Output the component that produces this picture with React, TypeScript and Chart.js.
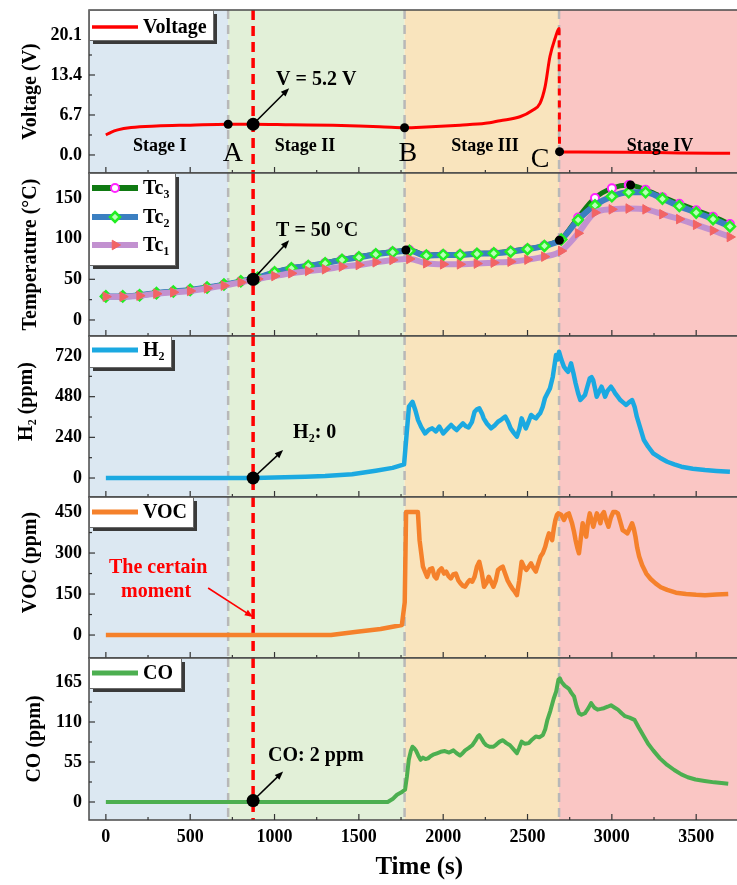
import React, { useEffect, useRef } from "react";
import { Chart, registerables } from "chart.js";

Chart.register(...registerables);
Chart.defaults.color = "#000";

const FONT = "'Liberation Serif', 'Times New Roman', Times, serif";
Chart.defaults.font.family = FONT;

// ---------------- shared time axis ----------------
const xTicks = [0, 500, 1000, 1500, 2000, 2500, 3000, 3500];
const X_MIN = -100;
const X_MAX = 3742;
const stageBounds = [725, 1771, 2687]; // A, B, C
const certainMoment = 873;
const stageNames = ["Stage I", "Stage II", "Stage III", "Stage IV"];
const stageLabelTimes = [320, 1180, 2248, 3286];
const stageLabelVoltage = 1.5;
const pointLetters = ["A", "B", "C"];
const letterTimes = [753, 1791, 2574];
const letterVoltages = [0.3, 0.3, -0.8];

// ---------------- voltage ----------------
const voltageTime = [0, 30, 70, 150, 300, 500, 725, 873, 1100, 1346, 1500, 1650, 1771, 1900, 2100, 2250, 2337, 2455, 2530, 2574, 2604, 2633, 2663, 2687, 2690, 2800, 3090, 3400, 3701];
const voltageValues = [3.35, 3.8, 4.2, 4.6, 4.86, 5.0, 5.15, 5.15, 5.05, 4.97, 4.85, 4.7, 4.57, 4.7, 5.0, 5.3, 5.75, 6.4, 7.5, 8.65, 11.4, 16.5, 19.5, 21.2, 0.55, 0.5, 0.45, 0.35, 0.28];
const voltageTicks = [0, 6.7, 13.4, 20.1];
const voltageMarks = [[725, 5.15], [1771, 4.57], [2690, 0.55]];
const voltageAtMoment = 5.15;

// ---------------- temperature ----------------
const tempTime = [0, 100, 200, 300, 400, 500, 600, 700, 800, 900, 1000, 1100, 1200, 1300, 1400, 1500, 1600, 1700, 1800, 1900, 2000, 2100, 2200, 2300, 2400, 2500, 2600, 2700, 2800, 2900, 3000, 3100, 3200, 3300, 3400, 3500, 3600, 3700];
const tc1Values = [28.7, 28.7, 29.9, 32.3, 34.0, 35.7, 38.9, 42.2, 46.3, 50.5, 54.0, 57.4, 60.3, 62.3, 65.6, 67.6, 70.9, 73.8, 75.0, 69.7, 68.4, 68.4, 69.3, 70.5, 71.7, 74.2, 77.9, 84.9, 106.6, 132.0, 136.0, 137.0, 136.0, 130.0, 124.0, 117.0, 110.0, 102.0];
const tc2Values = [29, 29, 30.5, 33, 35, 37, 40, 43.5, 47.5, 52, 58.6, 63.5, 66.4, 69.7, 74, 77, 80.7, 83.2, 85, 79.2, 80, 80, 81.3, 82, 84, 87, 91, 99, 123, 141, 152, 157, 157, 149, 140, 132, 124, 115];
const tc3Values = [29, 29, 30.5, 33, 35, 37, 40, 43.5, 47.5, 52, 58.8, 63.8, 66.8, 70.2, 74.5, 77.5, 81.2, 83.8, 86, 80, 80.5, 80.5, 81.8, 82.5, 84.5, 87.5, 91.5, 99.5, 126, 150, 162, 166, 160, 151, 143, 135, 127, 118];
const tempTicks = [0, 50, 100, 150];
const tempMarks = [[1779, 86], [2689, 98], [3111, 166]];
const tempAtMoment = 50;

// ---------------- H2 ----------------
const h2Series = [
  [0, 0], [880, 0], [1000, 3], [1182, 8], [1300, 12], [1460, 22], [1600, 43], [1700, 60], [1768, 80],
  [1797, 421], [1818, 450], [1835, 400], [1851, 342], [1870, 300], [1893, 263], [1915, 285], [1935, 293],
  [1957, 275], [1977, 303], [2000, 263], [2025, 290], [2047, 313], [2065, 295], [2080, 283], [2100, 305],
  [2117, 322], [2135, 305], [2150, 298], [2170, 330], [2186, 391], [2200, 405], [2214, 411], [2230, 380],
  [2240, 352], [2260, 320], [2284, 293], [2305, 310], [2325, 332], [2345, 345], [2368, 362], [2385, 330],
  [2400, 293], [2420, 265], [2437, 244], [2452, 290], [2465, 352], [2478, 320], [2490, 293], [2505, 330],
  [2521, 372], [2535, 360], [2550, 352], [2563, 370], [2575, 382], [2590, 420], [2603, 470], [2618, 500],
  [2633, 529], [2650, 598], [2669, 726], [2680, 700], [2687, 745], [2700, 700], [2716, 657], [2728, 640],
  [2740, 627], [2750, 650], [2758, 677], [2772, 620], [2785, 559], [2800, 500], [2813, 460], [2827, 475],
  [2841, 490], [2855, 540], [2869, 588], [2880, 595], [2889, 578], [2900, 530], [2910, 480], [2925, 510],
  [2939, 539], [2950, 510], [2960, 480], [2975, 515], [2995, 539], [3008, 520], [3020, 500], [3035, 480],
  [3050, 460], [3068, 445], [3085, 431], [3100, 445], [3120, 460], [3135, 420], [3148, 362], [3170, 290],
  [3190, 224], [3215, 185], [3245, 146], [3285, 120], [3328, 96], [3370, 80], [3412, 67], [3480, 55],
  [3552, 47], [3620, 42], [3700, 37],
];
const h2Ticks = [0, 240, 480, 720];
const h2AtMoment = 0;

// ---------------- VOC ----------------
const vocSeries = [
  [0, 0], [1335, 0], [1489, 12], [1629, 22], [1755, 37], [1772, 120], [1780, 450], [1850, 450], [1860, 347],
  [1880, 250], [1905, 213], [1920, 240], [1935, 244], [1948, 215], [1960, 207], [1975, 235], [1990, 244],
  [2005, 225], [2018, 232], [2032, 215], [2045, 207], [2060, 222], [2075, 225], [2090, 200], [2103, 189],
  [2117, 180], [2130, 177], [2145, 192], [2158, 201], [2172, 195], [2186, 213], [2200, 250], [2214, 268],
  [2228, 230], [2242, 177], [2256, 190], [2270, 213], [2284, 195], [2298, 177], [2312, 200], [2325, 238],
  [2339, 245], [2353, 250], [2367, 225], [2381, 201], [2395, 185], [2409, 171], [2423, 160], [2437, 146],
  [2451, 200], [2465, 268], [2479, 250], [2493, 238], [2507, 250], [2521, 262], [2535, 245], [2549, 232],
  [2563, 260], [2577, 287], [2591, 300], [2605, 323], [2616, 350], [2627, 372], [2637, 360], [2646, 347],
  [2656, 390], [2665, 420], [2675, 440], [2682, 445], [2700, 440], [2716, 421], [2730, 440], [2745, 445],
  [2764, 409], [2775, 380], [2785, 347], [2795, 320], [2805, 299], [2815, 350], [2827, 409], [2838, 380],
  [2848, 360], [2858, 410], [2869, 445], [2880, 420], [2890, 396], [2900, 420], [2911, 445], [2922, 430],
  [2932, 409], [2942, 440], [2953, 450], [2966, 420], [2980, 396], [2994, 430], [3008, 450], [3022, 450],
  [3036, 445], [3050, 415], [3064, 384], [3078, 378], [3092, 372], [3106, 390], [3120, 409], [3130, 390],
  [3140, 360], [3150, 320], [3162, 287], [3180, 255], [3204, 225], [3230, 205], [3259, 189], [3290, 175],
  [3328, 165], [3380, 155], [3440, 150], [3500, 147], [3552, 146], [3620, 148], [3690, 150],
];
const vocTicks = [0, 150, 300, 450];

// ---------------- CO ----------------
const coSeries = [
  [0, 0], [1671, 0], [1700, 4], [1726, 10], [1750, 13], [1774, 17], [1785, 35], [1796, 58], [1808, 70],
  [1818, 76], [1828, 74], [1838, 71], [1852, 64], [1866, 58], [1880, 61], [1895, 59], [1910, 60], [1925, 63],
  [1940, 65], [1963, 67], [1985, 69], [2010, 70], [2035, 68], [2061, 71], [2080, 67], [2100, 64], [2115, 67],
  [2130, 71], [2150, 74], [2172, 78], [2190, 84], [2205, 90], [2214, 92], [2225, 88], [2240, 82], [2256, 78],
  [2275, 76], [2298, 76], [2315, 79], [2335, 83], [2354, 85], [2375, 81], [2396, 78], [2415, 73], [2437, 67],
  [2450, 74], [2465, 83], [2485, 80], [2507, 81], [2528, 86], [2549, 90], [2570, 89], [2591, 92], [2605, 100],
  [2618, 113], [2635, 125], [2655, 142], [2670, 152], [2683, 168], [2692, 170], [2702, 165], [2720, 160],
  [2744, 156], [2760, 150], [2776, 145], [2790, 132], [2805, 122], [2820, 120], [2840, 122], [2858, 128],
  [2877, 136], [2895, 130], [2915, 127], [2935, 128], [2953, 129], [2975, 131], [2995, 133], [3015, 130],
  [3036, 127], [3058, 122], [3078, 118], [3105, 116], [3134, 113], [3160, 102], [3190, 90], [3215, 80],
  [3245, 71], [3285, 60], [3328, 51], [3370, 44], [3412, 38], [3450, 34], [3496, 31], [3550, 29], [3607, 27],
  [3650, 26], [3690, 25],
];
const coTicks = [0, 55, 110, 165];
const coAtMoment = 2;

// ---------------- styles ----------------
const stageColors = ["#dce8f2", "#e2f0d8", "#f9e4bd", "#fac6c4"];
const RED = "#ff0000";
const H2_COLOR = "#1ba9e1";
const VOC_COLOR = "#f5812b";
const CO_COLOR = "#4caf50";
const TC1 = { line: "#c291d0", marker: { style: "triangle", r: 5.5, fill: "#f26464", stroke: "#f26464", lw: 1, rot: 90 } };
const TC2 = { line: "#3b7fc1", marker: { style: "rectRot", r: 5, fill: "#b8ffb8", stroke: "#22ee22", lw: 2.5, rot: 0 } };
const TC3 = { line: "#0f7a12", marker: { style: "circle", r: 4, fill: "#ffffff", stroke: "#ff22ff", lw: 2, rot: 0 } };

const toXY = (xs: number[], ys: number[]) => xs.map((x, i) => ({ x, y: ys[i] }));
const pairsToXY = (p: number[][]) => p.map(([x, y]) => ({ x, y }));

// ---------------- drawing helpers ----------------
function arrow(ctx: any, x1: number, y1: number, x2: number, y2: number, color: string, lw: number, head: number) {
  const ang = Math.atan2(y2 - y1, x2 - x1);
  ctx.save();
  ctx.strokeStyle = color;
  ctx.fillStyle = color;
  ctx.lineWidth = lw;
  ctx.setLineDash([]);
  ctx.beginPath();
  ctx.moveTo(x1, y1);
  ctx.lineTo(x2 - Math.cos(ang) * head * 0.7, y2 - Math.sin(ang) * head * 0.7);
  ctx.stroke();
  ctx.beginPath();
  ctx.moveTo(x2, y2);
  ctx.lineTo(x2 - head * Math.cos(ang - 0.38), y2 - head * Math.sin(ang - 0.38));
  ctx.lineTo(x2 - head * Math.cos(ang + 0.38), y2 - head * Math.sin(ang + 0.38));
  ctx.closePath();
  ctx.fill();
  ctx.restore();
}

function dot(ctx: any, x: number, y: number, r: number) {
  ctx.save();
  ctx.fillStyle = "#000";
  ctx.beginPath();
  ctx.arc(x, y, r, 0, Math.PI * 2);
  ctx.fill();
  ctx.restore();
}

function drawMarker(ctx: any, m: any, x: number, y: number) {
  ctx.save();
  ctx.translate(x, y);
  ctx.rotate((m.rot * Math.PI) / 180);
  ctx.beginPath();
  const r = m.r;
  if (m.style === "circle") ctx.arc(0, 0, r, 0, Math.PI * 2);
  else if (m.style === "rectRot") {
    ctx.moveTo(0, -r); ctx.lineTo(r, 0); ctx.lineTo(0, r); ctx.lineTo(-r, 0); ctx.closePath();
  } else {
    ctx.moveTo(0, -r); ctx.lineTo(r * 0.87, r * 0.5); ctx.lineTo(-r * 0.87, r * 0.5); ctx.closePath();
  }
  ctx.fillStyle = m.fill;
  ctx.fill();
  ctx.lineWidth = m.lw;
  ctx.strokeStyle = m.stroke;
  ctx.setLineDash([]);
  ctx.stroke();
  ctx.restore();
}

function drawLegend(ctx: any, a: any, lg: any) {
  const L = a.left, T = a.top;
  ctx.save();
  ctx.setLineDash([]);
  ctx.fillStyle = "#3a3a3a";
  ctx.fillRect(L + 4, T + 4, lg.w, lg.h);
  ctx.fillStyle = "#ffffff";
  ctx.fillRect(L, T, lg.w, lg.h);
  ctx.strokeStyle = "#6a6a6a";
  ctx.lineWidth = 1;
  ctx.strokeRect(L + 0.5, T + 0.5, lg.w, lg.h);
  lg.items.forEach((it: any, i: number) => {
    const y = T + lg.itemY[i];
    ctx.strokeStyle = it.color;
    ctx.lineWidth = it.width;
    ctx.lineCap = "butt";
    ctx.beginPath();
    ctx.moveTo(L + 3, y);
    ctx.lineTo(L + 49, y);
    ctx.stroke();
    if (it.marker) drawMarker(ctx, it.marker, L + 26, y);
    ctx.fillStyle = "#000";
    ctx.font = `bold 20px ${FONT}`;
    ctx.textAlign = "left";
    ctx.textBaseline = "middle";
    ctx.fillText(it.label, L + 54, y + 1);
  });
  ctx.restore();
}

function makeDecorPlugin(def: any) {
  return {
    id: "decor",
    beforeDatasetsDraw(chart: any) {
      const { ctx, chartArea: a } = chart;
      const xs = chart.scales.x;
      const edges = [a.left, ...stageBounds.map((v) => xs.getPixelForValue(v)), a.right];
      ctx.save();
      for (let i = 0; i < 4; i++) {
        ctx.fillStyle = stageColors[i];
        ctx.fillRect(edges[i], a.top, edges[i + 1] - edges[i], a.bottom - a.top);
      }
      ctx.strokeStyle = "#b8b8b8";
      ctx.lineWidth = 2.5;
      ctx.setLineDash([9, 6]);
      for (const v of stageBounds) {
        const x = xs.getPixelForValue(v);
        ctx.beginPath();
        ctx.moveTo(x, a.top);
        ctx.lineTo(x, a.bottom);
        ctx.stroke();
      }
      ctx.strokeStyle = RED;
      ctx.lineWidth = 3.5;
      ctx.setLineDash([10, 6]);
      const rx = xs.getPixelForValue(certainMoment);
      ctx.beginPath();
      ctx.moveTo(rx, a.top);
      ctx.lineTo(rx, a.bottom);
      ctx.stroke();
      ctx.restore();
    },
    afterDatasetsDraw(chart: any) {
      const { ctx, chartArea: a } = chart;
      const xs = chart.scales.x;
      const ys = chart.scales.y;
      ctx.save();
      def.annotate(ctx, xs, ys, a);
      // frame
      ctx.setLineDash([]);
      ctx.strokeStyle = "#4a4a4a";
      ctx.lineWidth = 1.5;
      ctx.beginPath();
      ctx.moveTo(a.right + 2, a.top);
      ctx.lineTo(a.left, a.top);
      ctx.lineTo(a.left, a.bottom);
      ctx.lineTo(a.right + 2, a.bottom);
      ctx.stroke();
      // inward ticks
      ctx.strokeStyle = "#333";
      ctx.lineWidth = 1.2;
      const seg = (x1: number, y1: number, x2: number, y2: number) => {
        ctx.beginPath(); ctx.moveTo(x1, y1); ctx.lineTo(x2, y2); ctx.stroke();
      };
      xTicks.forEach((v) => {
        const x = xs.getPixelForValue(v);
        seg(x, a.bottom, x, a.bottom - 6);
        const xm = xs.getPixelForValue(v + 250);
        if (xm < a.right) seg(xm, a.bottom, xm, a.bottom - 3);
      });
      const yt = def.yTicks;
      const step = yt[1] - yt[0];
      yt.forEach((v: number) => {
        const y = ys.getPixelForValue(v);
        seg(a.left, y, a.left + 6, y);
        const ym = ys.getPixelForValue(v + step / 2);
        if (ym > a.top) seg(a.left, ym, a.left + 3, ym);
      });
      drawLegend(ctx, a, def.legend);
      ctx.restore();
    },
  };
}

// ---------------- panels ----------------
const PANEL_TOPS = [10, 173, 336, 497, 658];
const PANEL_BOTTOMS = [173, 336, 497, 658, 820];
const PAD = 20;

const panels: any[] = [
  {
    yMin: -3.02, yMax: 24.29, yTicks: voltageTicks, yDecimals: 1, yTitle: "Voltage (V)", titlePad: 19,
    datasets: [
      {
        data: toXY(voltageTime, voltageValues), borderColor: RED, borderWidth: 3, pointRadius: 0,
        cubicInterpolationMode: "monotone",
        segment: { borderDash: (c: any) => (Math.abs(c.p1.parsed.y - c.p0.parsed.y) > 10 ? [7, 5] : undefined) },
      },
    ],
    legend: { w: 124, h: 30, itemY: [17], items: [{ label: "Voltage", color: RED, width: 3.5 }] },
    annotate: (ctx: any, xs: any, ys: any) => {
      ctx.fillStyle = "#000";
      ctx.textAlign = "center";
      ctx.textBaseline = "middle";
      ctx.font = `bold 18px ${FONT}`;
      stageNames.forEach((s, i) => ctx.fillText(s, xs.getPixelForValue(stageLabelTimes[i]), ys.getPixelForValue(stageLabelVoltage)));
      ctx.font = `28px ${FONT}`;
      pointLetters.forEach((s, i) => ctx.fillText(s, xs.getPixelForValue(letterTimes[i]), ys.getPixelForValue(letterVoltages[i])));
      const x0 = xs.getPixelForValue(certainMoment);
      const y0 = ys.getPixelForValue(voltageAtMoment);
      arrow(ctx, x0, y0, x0 + 36, y0 - 36, "#000", 1.6, 9);
      voltageMarks.forEach(([t, v]) => dot(ctx, xs.getPixelForValue(t), ys.getPixelForValue(v), 4.5));
      dot(ctx, x0, y0, 6.5);
      ctx.fillStyle = "#000";
      ctx.textAlign = "left";
      ctx.font = `bold 20px ${FONT}`;
      ctx.fillText("V = 5.2 V", x0 + 23, y0 - 44);
    },
  },
  {
    yMin: -19.7, yMax: 180.7, yTicks: tempTicks, yDecimals: 0, yTitle: "Temperature (°C)", titlePad: 19,
    datasets: [
      {
        label: "Tc1", data: toXY(tempTime, tc1Values), borderColor: TC1.line, borderWidth: 6, order: 0,
        cubicInterpolationMode: "monotone", pointStyle: "triangle", pointRotation: 90, pointRadius: 5.5,
        pointBackgroundColor: TC1.marker.fill, pointBorderColor: TC1.marker.stroke, pointBorderWidth: 1,
      },
      {
        label: "Tc2", data: toXY(tempTime, tc2Values), borderColor: TC2.line, borderWidth: 6, order: 1,
        cubicInterpolationMode: "monotone", pointStyle: "rectRot", pointRadius: 5,
        pointBackgroundColor: TC2.marker.fill, pointBorderColor: TC2.marker.stroke, pointBorderWidth: 2.5,
      },
      {
        label: "Tc3", data: toXY(tempTime, tc3Values), borderColor: TC3.line, borderWidth: 5, order: 2,
        cubicInterpolationMode: "monotone", pointStyle: "circle", pointRadius: 4,
        pointBackgroundColor: TC3.marker.fill, pointBorderColor: TC3.marker.stroke, pointBorderWidth: 2,
      },
    ],
    legend: {
      w: 86, h: 92, itemY: [15, 44, 72],
      items: [
        { label: "Tc₃", color: TC3.line, width: 6, marker: TC3.marker },
        { label: "Tc₂", color: TC2.line, width: 6, marker: TC2.marker },
        { label: "Tc₁", color: TC1.line, width: 6, marker: TC1.marker },
      ],
    },
    annotate: (ctx: any, xs: any, ys: any) => {
      const x0 = xs.getPixelForValue(certainMoment);
      const y0 = ys.getPixelForValue(tempAtMoment);
      arrow(ctx, x0, y0, x0 + 36, y0 - 39, "#000", 1.6, 9);
      tempMarks.forEach(([t, v]) => dot(ctx, xs.getPixelForValue(t), ys.getPixelForValue(v), 4.5));
      dot(ctx, x0, y0, 6.5);
      ctx.fillStyle = "#000";
      ctx.textAlign = "left";
      ctx.textBaseline = "middle";
      ctx.font = `bold 20px ${FONT}`;
      ctx.fillText("T = 50 °C", x0 + 23, y0 - 48);
    },
  },
  {
    yMin: -112, yMax: 838, yTicks: h2Ticks, yDecimals: 0, yTitle: "      H₂ (ppm)", titlePad: 15,
    datasets: [{ data: pairsToXY(h2Series), borderColor: H2_COLOR, borderWidth: 4.5, pointRadius: 0, borderJoinStyle: "round" }],
    legend: { w: 82, h: 31, itemY: [14], items: [{ label: "H₂", color: H2_COLOR, width: 5 }] },
    annotate: (ctx: any, xs: any, ys: any) => {
      const x0 = xs.getPixelForValue(certainMoment);
      const y0 = ys.getPixelForValue(h2AtMoment);
      arrow(ctx, x0, y0, x0 + 30, y0 - 28, "#000", 1.6, 9);
      dot(ctx, x0, y0, 6.5);
      ctx.fillStyle = "#000";
      ctx.textAlign = "left";
      ctx.textBaseline = "middle";
      ctx.font = `bold 20px ${FONT}`;
      ctx.fillText("H₂: 0", x0 + 40, y0 - 45);
    },
  },
  {
    yMin: -84, yMax: 505, yTicks: vocTicks, yDecimals: 0, yTitle: "      VOC (ppm)", titlePad: 19,
    datasets: [{ data: pairsToXY(vocSeries), borderColor: VOC_COLOR, borderWidth: 4.5, pointRadius: 0, borderJoinStyle: "round" }],
    legend: { w: 104, h: 30, itemY: [15], items: [{ label: "VOC", color: VOC_COLOR, width: 5 }] },
    annotate: (ctx: any, xs: any, ys: any) => {
      const x0 = xs.getPixelForValue(certainMoment);
      const y0 = ys.getPixelForValue(0);
      ctx.fillStyle = RED;
      ctx.textAlign = "center";
      ctx.textBaseline = "middle";
      ctx.font = `bold 20px ${FONT}`;
      ctx.fillText("The certain", x0 - 95, y0 - 67);
      ctx.fillText("moment", x0 - 97, y0 - 43);
      arrow(ctx, x0 - 45, y0 - 47, x0, y0 - 18, RED, 1.6, 9);
    },
  },
  {
    yMin: -24.75, yMax: 198, yTicks: coTicks, yDecimals: 0, yTitle: "CO (ppm)", titlePad: 23, showX: true,
    datasets: [{ data: pairsToXY(coSeries), borderColor: CO_COLOR, borderWidth: 4, pointRadius: 0, borderJoinStyle: "round" }],
    legend: { w: 92, h: 30, itemY: [15], items: [{ label: "CO", color: CO_COLOR, width: 5 }] },
    annotate: (ctx: any, xs: any, ys: any) => {
      const x0 = xs.getPixelForValue(certainMoment);
      const y0 = ys.getPixelForValue(coAtMoment);
      arrow(ctx, x0, y0, x0 + 30, y0 - 29, "#000", 1.6, 9);
      dot(ctx, x0, y0, 6.5);
      ctx.fillStyle = "#000";
      ctx.textAlign = "left";
      ctx.textBaseline = "middle";
      ctx.font = `bold 20px ${FONT}`;
      ctx.fillText("CO: 2 ppm", x0 + 15, y0 - 45);
    },
  },
];

const tickFont = { family: FONT, size: 18, weight: "bold" as const, lineHeight: 1 };
const titleFont = { family: FONT, size: 20, weight: "bold" as const, lineHeight: 1.2 };

function buildConfig(def: any): any {
  const isLast = !!def.showX;
  return {
    type: "line",
    data: { datasets: def.datasets },
    options: {
      responsive: false,
      animation: false,
      devicePixelRatio: 1,
      events: [],
      layout: { autoPadding: false, padding: { top: PAD, bottom: isLast ? 0 : PAD, left: 0, right: 0 } },
      plugins: { legend: { display: false }, tooltip: { enabled: false } },
      scales: {
        x: {
          type: "linear",
          min: X_MIN,
          max: X_MAX,
          display: isLast,
          grid: { display: false, drawTicks: false },
          border: { display: false },
          afterBuildTicks: (s: any) => { s.ticks = xTicks.map((v) => ({ value: v })); },
          afterFit: (s: any) => { if (isLast) s.height = 65; },
          ticks: { font: tickFont, color: "#000", padding: 8, maxRotation: 0, autoSkip: false, callback: (v: any) => String(v) },
          title: {
            display: isLast, text: "  Time (s)", color: "#000",
            font: { family: FONT, size: 25, weight: "bold", lineHeight: 1.2 }, padding: { top: 0, bottom: 2 },
          },
        },
        y: {
          type: "linear",
          min: def.yMin,
          max: def.yMax,
          grid: { display: false, drawTicks: false },
          border: { display: false },
          afterBuildTicks: (s: any) => { s.ticks = def.yTicks.map((v: number) => ({ value: v })); },
          afterFit: (s: any) => { s.width = 89; },
          ticks: { font: tickFont, color: "#000", padding: 7, callback: (v: any) => Number(v).toFixed(def.yDecimals) },
          title: { display: true, text: def.yTitle, color: "#000", font: titleFont, padding: { top: def.titlePad, bottom: 0 } },
        },
      },
    },
    plugins: [makeDecorPlugin(def)],
  };
}

function Panel({ index }: { index: number }) {
  const ref = useRef<HTMLCanvasElement>(null);
  const def = panels[index];
  const canvasTop = PANEL_TOPS[index] - PAD;
  const canvasH = def.showX ? 885 - canvasTop : PANEL_BOTTOMS[index] + PAD - canvasTop;
  useEffect(() => {
    const chart = new Chart(ref.current as HTMLCanvasElement, buildConfig(def));
    return () => chart.destroy();
  }, []);
  return (
    <canvas
      ref={ref}
      width={737}
      height={canvasH}
      style={{ position: "absolute", left: 0, top: canvasTop, width: 737, height: canvasH }}
    />
  );
}

export default function App() {
  return (
    <div style={{ position: "absolute", left: 0, top: 0, width: 737, height: 885, background: "#fff", overflow: "hidden" }}>
      {panels.map((_, i) => (
        <Panel key={i} index={i} />
      ))}
    </div>
  );
}
